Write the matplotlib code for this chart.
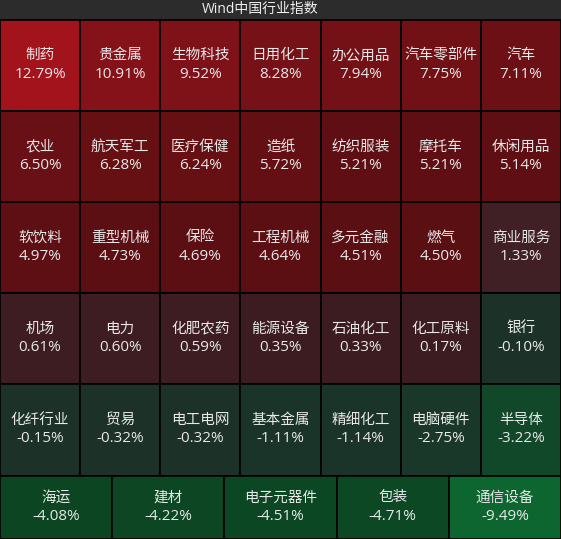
import numpy as np
import matplotlib
matplotlib.use('Agg')
import matplotlib.pyplot as plt
from matplotlib.patches import Rectangle

plt.rcParams['font.family'] = ['Noto Sans CJK SC', 'DejaVu Sans']

title = 'Wind中国行业指数'

names = ['制药', '贵金属', '生物科技', '日用化工', '办公用品', '汽车零部件', '汽车',
         '农业', '航天军工', '医疗保健', '造纸', '纺织服装', '摩托车', '休闲用品',
         '软饮料', '重型机械', '保险', '工程机械', '多元金融', '燃气', '商业服务',
         '机场', '电力', '化肥农药', '能源设备', '石油化工', '化工原料', '银行',
         '化纤行业', '贸易', '电工电网', '基本金属', '精细化工', '电脑硬件', '半导体',
         '海运', '建材', '电子元器件', '包装', '通信设备']
changes = [12.79, 10.91, 9.52, 8.28, 7.94, 7.75, 7.11,
           6.50, 6.28, 6.24, 5.72, 5.21, 5.21, 5.14,
           4.97, 4.73, 4.69, 4.64, 4.51, 4.50, 1.33,
           0.61, 0.60, 0.59, 0.35, 0.33, 0.17, -0.10,
           -0.15, -0.32, -0.32, -1.11, -1.14, -2.75, -3.22,
           -4.08, -4.22, -4.51, -4.71, -9.49]

# colour anchors (value -> rgb), separate for gains and losses
pos_v = [0.0, 1.5, 4.5, 7.0, 9.5, 10.9, 12.8]
pos_c = np.array([[0x3b, 0x1b, 0x1f], [0x41, 0x21, 0x25], [0x5a, 0x0f, 0x13],
                  [0x6c, 0x10, 0x15], [0x7e, 0x12, 0x18], [0x86, 0x12, 0x19],
                  [0xa2, 0x13, 0x1c]]) / 255
neg_v = [-9.5, -4.7, -4.0, -3.2, -2.8, -0.1]
neg_c = np.array([[0x0d, 0x66, 0x30], [0x0c, 0x48, 0x24], [0x0c, 0x45, 0x22],
                  [0x11, 0x48, 0x2a], [0x1a, 0x38, 0x2a], [0x1c, 0x32, 0x28]]) / 255


def cell_color(v):
    if v >= 0:
        xs, cs = pos_v, pos_c
    else:
        xs, cs = neg_v, neg_c
    return tuple(np.interp(v, xs, cs[:, k]) for k in range(3))


fig = plt.figure(figsize=(5.61, 5.39), dpi=100)
ax = fig.add_axes([0, 0, 1, 1])
ax.set_xlim(0, 561)
ax.set_ylim(539, 0)
ax.axis('off')
fig.patch.set_facecolor('#1e1e1e')

# title bar
ax.add_patch(Rectangle((0, 0), 561, 19.5, facecolor='#2c2c2c', edgecolor='none'))
ax.text(260.5, 9.5, title, ha='center', va='center', color='#f0f0f0', fontsize=10,
        family=['Open Sans', 'Noto Sans CJK SC'])

row_edges = [19.5, 111, 202, 293, 384, 476, 539]
col7 = np.linspace(0, 561, 8)
col5 = np.linspace(0, 561, 6)

k = 0
for r in range(6):
    cols = col7 if r < 5 else col5
    y0, y1 = row_edges[r], row_edges[r + 1]
    for c in range(len(cols) - 1):
        x0, x1 = cols[c], cols[c + 1]
        v = changes[k]
        ax.add_patch(Rectangle((x0, y0), x1 - x0, y1 - y0,
                               facecolor=cell_color(v), edgecolor='black', linewidth=1.2))
        cx, cy = (x0 + x1) / 2, (y0 + y1) / 2
        ax.text(cx, cy - 10, names[k], ha='center', va='center',
                color='#e8e8e8', fontsize=10.5)
        ax.text(cx, cy + 9, f'{v:.2f}%', ha='center', va='center',
                color='#e8e8e8', fontsize=11, family=['Open Sans', 'Noto Sans CJK SC'])
        k += 1

fig.savefig('out.png', dpi=100, facecolor=fig.get_facecolor())
